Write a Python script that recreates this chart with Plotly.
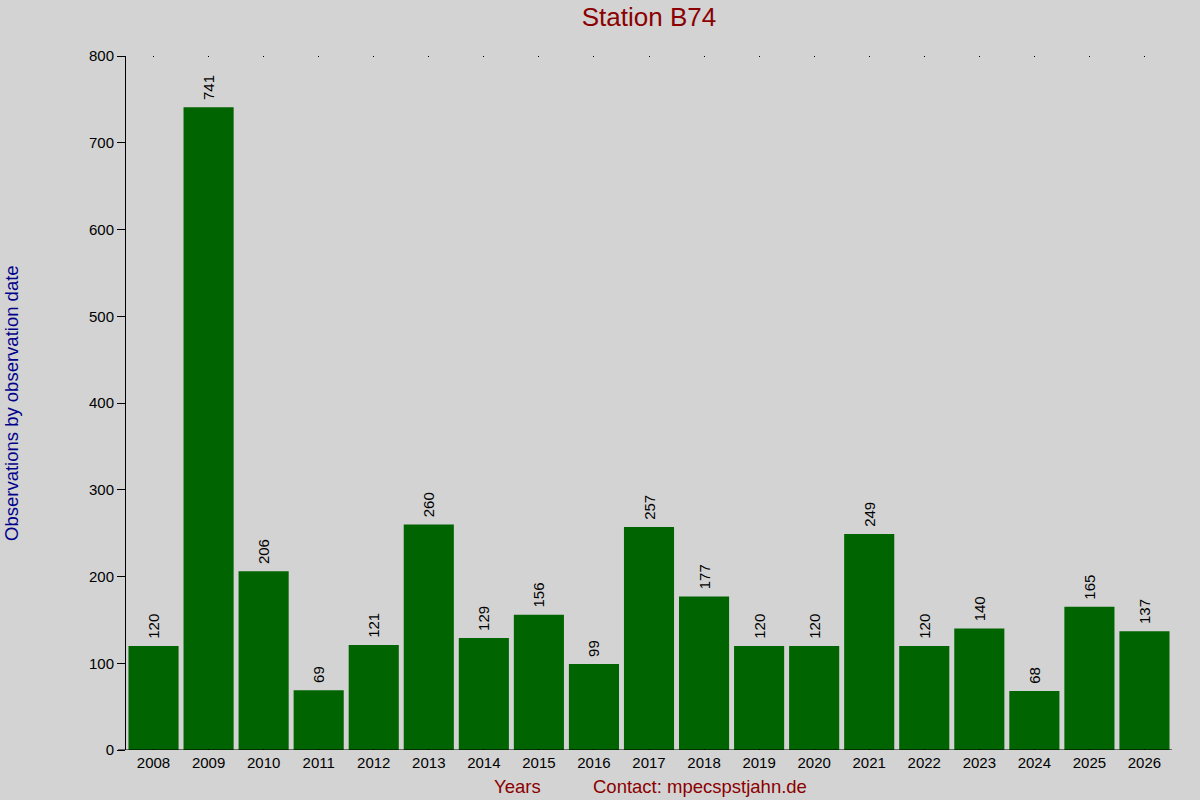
import plotly.graph_objects as go

# observations per year
years = [str(y) for y in range(2008, 2027)]
counts = [120, 741, 206, 69, 121, 260, 129, 156, 99, 257, 177, 120, 120, 249, 120, 140, 68, 165, 137]

title_text = "Station B74"
y_title = "Observations by observation date"
x_title = "Years"
contact = "Contact: mpecspstjahn.de"

# plot area in pixels
L, R, T, B = 126, 28, 56, 50
pw, ph = 1200 - L - R, 800 - T - B

fig = go.Figure()
fig.add_trace(go.Bar(x=years, y=counts, marker=dict(color="#006400", line=dict(width=0)),
                     width=0.91, text=[" " + str(c) for c in counts], textposition="outside",
                     textangle=-90, constraintext="none", cliponaxis=False,
                     textfont=dict(family="Liberation Sans, Arial", size=15, color="black")))

fig.update_layout(
    width=1200, height=800,
    paper_bgcolor="#D3D3D3", plot_bgcolor="#D3D3D3",
    margin=dict(l=L, r=R, t=T, b=B),
    font=dict(family="Liberation Sans, Arial", size=15, color="black"),
    showlegend=False,
    title=dict(text=title_text, xref="paper", x=0.5, xanchor="center",
               yref="container", y=1 - 17 / 800, yanchor="middle",
               font=dict(size=26, color="#8B0000")),
    xaxis=dict(type="category", range=[-0.5, 18.5], showgrid=False, showline=False,
               ticks="inside", ticklen=1, tickcolor="black",
               mirror="ticks", tickfont=dict(size=15), ticklabelstandoff=2),
    yaxis=dict(range=[0, 800], dtick=100, showgrid=False, zeroline=False, showline=True,
               linecolor="black", linewidth=1, ticks="outside", ticklen=8, tickcolor="black",
               tickfont=dict(size=15)),
)
# bottom axis line drawn as a shape spanning from the 0 tick
fig.add_shape(type="line", xref="paper", yref="y", x0=-8 / pw, x1=1, y0=0, y1=0,
              line=dict(color="black", width=1))

fig.add_annotation(text=y_title, xref="paper", yref="paper", x=(11 - L) / pw, y=0.5,
                   textangle=-90, showarrow=False, xanchor="center", yanchor="middle",
                   font=dict(size=18.5, color="#00008B"))
fig.add_annotation(text=x_title, xref="paper", yref="paper", x=(517 - L) / pw, y=-36 / ph,
                   showarrow=False, xanchor="center", yanchor="middle",
                   font=dict(size=18.5, color="#8B0000"))
fig.add_annotation(text=contact, xref="paper", yref="paper", x=(591 - L) / pw, y=-36 / ph,
                   showarrow=False, xanchor="left", yanchor="middle",
                   font=dict(size=18.5, color="#8B0000"))

# drop the page margin so the figure sits at the window corner
fig.write_html("out.html", config={"displayModeBar": False},
               post_script="document.body.style.margin='0';")
